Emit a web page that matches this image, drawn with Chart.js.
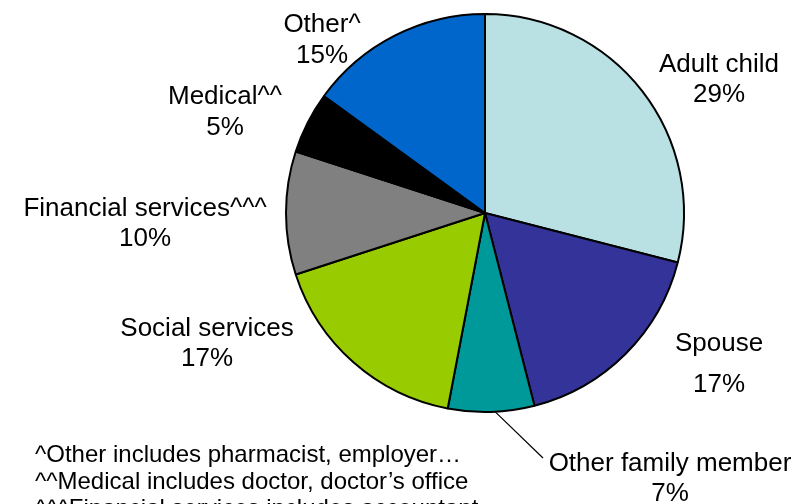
<!DOCTYPE html>
<html>
<head>
<meta charset="utf-8">
<script src="https://cdn.jsdelivr.net/npm/chart.js@4/dist/chart.umd.min.js"></script>
<style>
  html, body { margin: 0; padding: 0; background: #ffffff; }
  #wrap { position: relative; width: 802px; height: 504px; overflow: hidden; }
  canvas { display: block; }
</style>
</head>
<body>
<div id="wrap"><canvas id="c" width="802" height="504"></canvas></div>
<script>
// Who helped: share of respondents by source
const categories = ['Adult child', 'Spouse', 'Other family member', 'Social services', 'Financial services^^^', 'Medical^^', 'Other^'];
const shares = [29, 17, 7, 17, 10, 5, 15];
const sliceColors = ['#B9E0E3', '#333399', '#009999', '#99CC00', '#808080', '#000000', '#0066CC'];
const footnotes = [
  '^Other includes pharmacist, employer…',
  '^^Medical includes doctor, doctor\u2019s office',
  '^^^Financial services includes accountant'
];

// Label placement: [centre x, name baseline, percent baseline]
const labelLayout = [
  [719, 72, 102],
  [719, 351, 392],
  [670, 471, 501],
  [207, 336, 366],
  [145, 216, 246],
  [225, 104, 135],
  [322, 32, 63]
];

const FONT = '"Liberation Sans", Arial, sans-serif';

const labelPlugin = {
  id: 'sliceLabels',
  afterDatasetsDraw(chart) {
    const ctx = chart.ctx;
    const meta = chart.getDatasetMeta(0);
    ctx.save();
    // leader line for the small slice
    const arc = meta.data[2];
    const mid = (arc.startAngle + arc.endAngle) / 2;
    const sx = arc.x + Math.cos(mid) * arc.outerRadius;
    const sy = arc.y + Math.sin(mid) * arc.outerRadius;
    ctx.strokeStyle = '#000';
    ctx.lineWidth = 1.2;
    ctx.beginPath();
    ctx.moveTo(sx + 4, sy);
    ctx.lineTo(543, 458);
    ctx.stroke();

    ctx.fillStyle = '#000';
    ctx.font = '26px ' + FONT;
    ctx.textAlign = 'center';
    ctx.textBaseline = 'alphabetic';
    categories.forEach((name, i) => {
      const [x, y1, y2] = labelLayout[i];
      ctx.fillText(name, x, y1);
      ctx.fillText(shares[i] + '%', x, y2);
    });

    ctx.font = '24px ' + FONT;
    ctx.textAlign = 'left';
    footnotes.forEach((t, i) => {
      ctx.fillText(t, 35, 462 + i * 27);
    });
    ctx.restore();
  }
};

new Chart(document.getElementById('c'), {
  type: 'pie',
  data: {
    labels: categories,
    datasets: [{
      data: shares,
      backgroundColor: sliceColors,
      borderColor: '#000000',
      borderWidth: 2,
      hoverOffset: 0,
      borderAlign: 'center'
    }]
  },
  options: {
    responsive: false,
    animation: false,
    events: [],
    layout: { padding: { left: 285, right: 117, top: 13, bottom: 91 } },
    plugins: {
      legend: { display: false },
      tooltip: { enabled: false },
      title: { display: false }
    }
  },
  plugins: [labelPlugin]
});
</script>
</body>
</html>
